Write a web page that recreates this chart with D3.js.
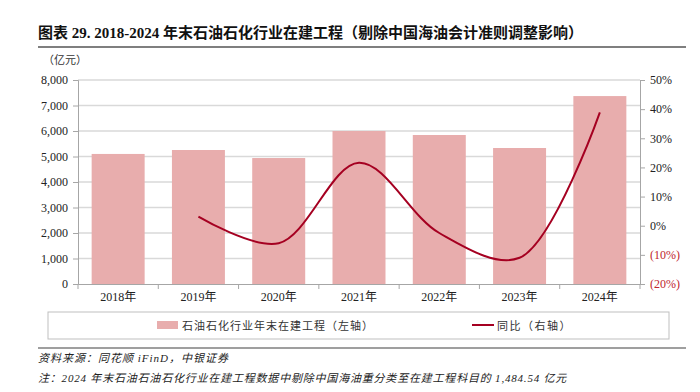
<!DOCTYPE html>
<html><head><meta charset="utf-8">
<script src="https://cdn.jsdelivr.net/npm/d3@7/dist/d3.min.js"></script>
<style>
body{margin:0;background:#fff;}
text{font-family:"Liberation Serif","Noto Sans CJK SC",serif;}
</style></head>
<body><svg id="c" width="700" height="392"></svg>
<script>
const categories = ["2018年","2019年","2020年","2021年","2022年","2023年","2024年"];
const cipValues = [5100, 5255, 4940, 6000, 5843, 5333, 7370];
const yoyValues = [null, 3.1, -6.0, 21.6, -2.5, -11.0, 38.9];
const leftTicks = [0,1000,2000,3000,4000,5000,6000,7000,8000];
const rightTicks = [-20,-10,0,10,20,30,40,50];
const title = "图表 29. 2018-2024 年末石油石化行业在建工程（剔除中国海油会计准则调整影响）";
const unitLabel = "（亿元）";
const legendBar = "石油石化行业年末在建工程（左轴）";
const legendLine = "同比（右轴）";
const sourceText = "资料来源：同花顺 iFinD，中银证券";
const noteText = "注：2024 年末石油石油石化行业在建工程数据中剔除中国海油重分类至在建工程科目的 1,484.54 亿元";

const svg = d3.select("#c");
const L = 78, R = 640, T = 80, B = 284;

// title
svg.append("text").attr("x",38).attr("y",38).attr("font-size",15).attr("font-weight","bold")
  .attr("fill","#111").text(title);
svg.append("line").attr("x1",38).attr("x2",686).attr("y1",47).attr("y2",47)
  .attr("stroke","#7f7f7f").attr("stroke-width",2);

const x = d3.scaleBand().domain(categories).range([L,R]).paddingInner(0.34).paddingOuter(0.17);
const xb = d3.scaleBand().domain(categories).range([L,R]);
const yL = d3.scaleLinear().domain([0,8000]).range([B,T]);
const yR = d3.scaleLinear().domain([-20,50]).range([B,T]);

// gridlines
svg.append("g").selectAll("line").data(leftTicks.filter(d=>d>0)).join("line")
  .attr("x1",L).attr("x2",R).attr("y1",d=>yL(d)).attr("y2",d=>yL(d))
  .attr("stroke","#d9d9d9").attr("stroke-width",1.5);

// bars
svg.append("g").selectAll("rect").data(cipValues).join("rect")
  .attr("x",(d,i)=>x(categories[i])).attr("width",x.bandwidth())
  .attr("y",d=>yL(d)).attr("height",d=>B-yL(d))
  .attr("fill","#e8adad");

// left axis
const la = svg.append("g").attr("transform",`translate(${L},0)`)
  .call(d3.axisLeft(yL).tickValues(leftTicks).tickFormat(d3.format(",")).tickSize(5).tickPadding(5));
la.select(".domain").attr("stroke","#a6a6a6");
la.selectAll(".tick line").attr("stroke","#a6a6a6");
la.selectAll("text").attr("font-size",12).attr("fill","#222").style("font-family","Liberation Serif");

// right axis
const ra = svg.append("g").attr("transform",`translate(${R},0)`)
  .call(d3.axisRight(yR).tickValues(rightTicks).tickFormat(d=> d<0 ? `(${-d}%)` : `${d}%`).tickSize(5).tickPadding(5));
ra.select(".domain").attr("stroke","#a6a6a6");
ra.selectAll(".tick line").attr("stroke","#a6a6a6");
ra.selectAll("text").attr("font-size",12).attr("fill",d=>d<0?"#c0262d":"#222").style("font-family","Liberation Serif");

// bottom axis
const ba = svg.append("g").attr("transform",`translate(0,${B})`)
  .call(d3.axisBottom(xb).tickSize(0).tickPadding(8));
ba.select(".domain").attr("stroke","#a6a6a6");
ba.selectAll("text").attr("font-size",12).attr("fill","#222");
svg.append("g").selectAll("line").data(d3.range(categories.length+1)).join("line")
  .attr("x1",i=>L+i*xb.step()).attr("x2",i=>L+i*xb.step())
  .attr("y1",B).attr("y2",B+5).attr("stroke","#a6a6a6");

// line
const pts = yoyValues.map((v,i)=>({v,c:categories[i]})).filter(d=>d.v!==null);
const line = d3.line().x(d=>x(d.c)+x.bandwidth()/2).y(d=>yR(d.v)).curve(d3.curveCatmullRom.alpha(0.5));
svg.append("path").datum(pts).attr("d",line).attr("fill","none")
  .attr("stroke","#a50021").attr("stroke-width",2);

// unit
svg.append("text").attr("x",43).attr("y",64).attr("font-size",11).attr("fill","#333").text(unitLabel);

// legend
svg.append("rect").attr("x",48).attr("y",312).attr("width",621).attr("height",27)
  .attr("fill","none").attr("stroke","#bfbfbf").attr("stroke-width",1);
svg.append("rect").attr("x",157).attr("y",321).attr("width",21).attr("height",8).attr("fill","#e8adad");
svg.append("text").attr("x",182).attr("y",330).attr("font-size",11).attr("letter-spacing",1)
  .attr("fill","#333").text(legendBar);
svg.append("line").attr("x1",472).attr("x2",494).attr("y1",325).attr("y2",325)
  .attr("stroke","#a50021").attr("stroke-width",2);
svg.append("text").attr("x",497).attr("y",330).attr("font-size",11).attr("letter-spacing",1.5)
  .attr("fill","#333").text(legendLine);

// footer
svg.append("line").attr("x1",38).attr("x2",686).attr("y1",348).attr("y2",348)
  .attr("stroke","#7f7f7f").attr("stroke-width",1.5);
svg.append("text").attr("x",38).attr("y",362).attr("font-size",11).attr("letter-spacing",1)
  .attr("font-style","italic").attr("fill","#222").text(sourceText);
svg.append("text").attr("x",38).attr("y",382).attr("font-size",11).attr("letter-spacing",0.8)
  .attr("font-style","italic").attr("fill","#222").text(noteText);
</script></body></html>
